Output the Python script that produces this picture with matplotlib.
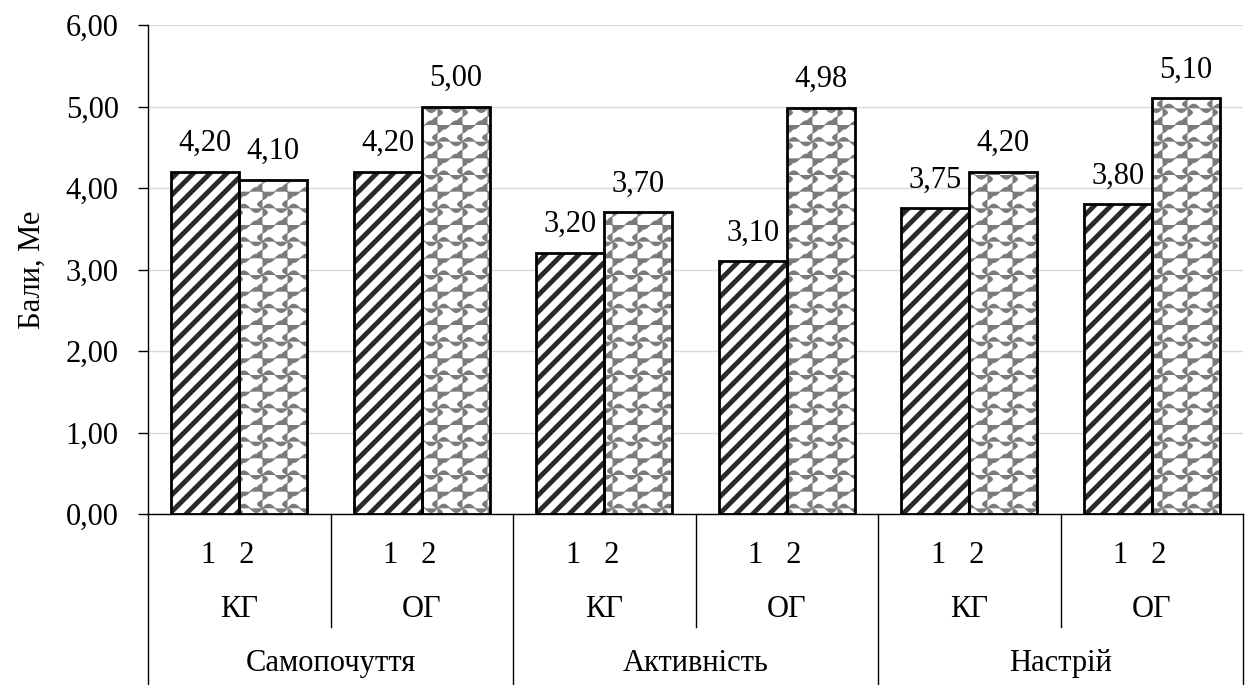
import warnings
import matplotlib.pyplot as plt
import matplotlib.transforms as mtransforms
import matplotlib.hatch as mhatch
from matplotlib.path import Path
from matplotlib.lines import Line2D
import numpy as np

# data
indicators = ["Самопочуття", "Активність", "Настрій"]
groups = ["КГ", "ОГ", "КГ", "ОГ", "КГ", "ОГ"]
series1 = [4.20, 4.20, 3.20, 3.10, 3.75, 3.80]
series2 = [4.10, 5.00, 3.70, 4.98, 4.20, 5.10]
yticks = [0, 1, 2, 3, 4, 5, 6]

warnings.filterwarnings("ignore")


# wavy grid hatch ('~'), looks like the jigsaw fill of the second series
class WaveHatch(mhatch.HatchPatternBase):
    def __init__(self, hatch, density):
        self.rows = int(hatch.count('~') * density)
        self.cols = int(round(self.rows * 2 / 3))
        self.pts = 12 * max(self.rows, self.cols) + 1
        self.num_vertices = (self.rows + self.cols) * self.pts

    def set_vertices_and_codes(self, vertices, codes):
        if self.num_vertices == 0:
            return
        t = np.linspace(0, 1, self.pts)
        i = 0
        # horizontal wavy lines, one wave per column
        for k in range(self.rows):
            base = (k + 0.5) / self.rows
            vertices[i:i + self.pts, 0] = t
            vertices[i:i + self.pts, 1] = base + 0.25 / self.rows * np.sin(2 * np.pi * self.cols * t + k * np.pi)
            codes[i] = Path.MOVETO
            codes[i + 1:i + self.pts] = Path.LINETO
            i += self.pts
        # vertical wavy lines, one wave per row
        for k in range(self.cols):
            base = (k + 0.5) / self.cols
            vertices[i:i + self.pts, 0] = base + 0.2 / self.cols * np.sin(2 * np.pi * self.rows * t)
            vertices[i:i + self.pts, 1] = t
            codes[i] = Path.MOVETO
            codes[i + 1:i + self.pts] = Path.LINETO
            i += self.pts


mhatch._hatch_types.append(WaveHatch)

plt.rcParams['font.family'] = ['Liberation Serif', 'DejaVu Serif']
fs = 22

fig = plt.figure(figsize=(12.45, 6.85), dpi=100)
ax = fig.add_axes([0.1189, 0.2496, 0.8795, 0.7139])

x = np.arange(len(groups))
w = 0.372

# first series: thick dark diagonals
plt.rcParams['hatch.linewidth'] = 3.5
ax.bar(x - w / 2, series1, w, color='white', edgecolor='#2a2a2a', hatch='//', linewidth=0, zorder=2)
# second series: thin grey wavy pattern
plt.rcParams['hatch.linewidth'] = 0.7
ax.bar(x + w / 2, series2, w, color='white', edgecolor='#7a7a7a', hatch='~', linewidth=0, zorder=2)
# outlines
ax.bar(x - w / 2, series1, w, fill=False, edgecolor='black', linewidth=2, zorder=3)
ax.bar(x + w / 2, series2, w, fill=False, edgecolor='black', linewidth=2, zorder=3)

for xi, v in zip(x, series1):
    ax.annotate(f"{v:.2f}".replace('.', ','), (xi - w / 2, v), xytext=(0, 10),
                textcoords='offset points', ha='center', va='bottom', fontsize=fs)
for xi, v in zip(x, series2):
    ax.annotate(f"{v:.2f}".replace('.', ','), (xi + w / 2, v), xytext=(0, 10),
                textcoords='offset points', ha='center', va='bottom', fontsize=fs)

ax.set_xlim(-0.5, len(groups) - 0.5)
ax.set_ylim(0, 6)
ax.set_yticks(yticks)
ax.set_yticklabels([f"{t:.2f}".replace('.', ',') for t in yticks], fontsize=fs)
ax.set_ylabel("Бали, Ме", fontsize=fs, labelpad=14)
ax.yaxis.grid(True, color='#d9d9d9', linewidth=1)
ax.set_axisbelow(True)
ax.tick_params(axis='y', length=7, width=1, pad=14)
ax.set_xticks([])
for s in ['top', 'right']:
    ax.spines[s].set_visible(False)
ax.spines['left'].set_linewidth(1)
ax.spines['bottom'].set_linewidth(1)

# multi-level category axis below the plot
trans = mtransforms.blended_transform_factory(ax.transData, ax.transAxes)
for xi, g in zip(x, groups):
    ax.text(xi - 0.065, -0.084, "1   2", transform=trans, ha='center', va='center', fontsize=fs)
    ax.text(xi, -0.196, g, transform=trans, ha='center', va='center', fontsize=fs)
for i, name in enumerate(indicators):
    ax.text(2 * i + 0.5, -0.305, name, transform=trans, ha='center', va='center', fontsize=fs)

for i in range(len(groups) + 1):
    bottom = -0.35 if i % 2 == 0 else -0.231
    ax.add_line(Line2D([i - 0.5, i - 0.5], [0, bottom], transform=trans,
                       color='black', linewidth=1, clip_on=False))

fig.savefig("out.png", dpi=100)
